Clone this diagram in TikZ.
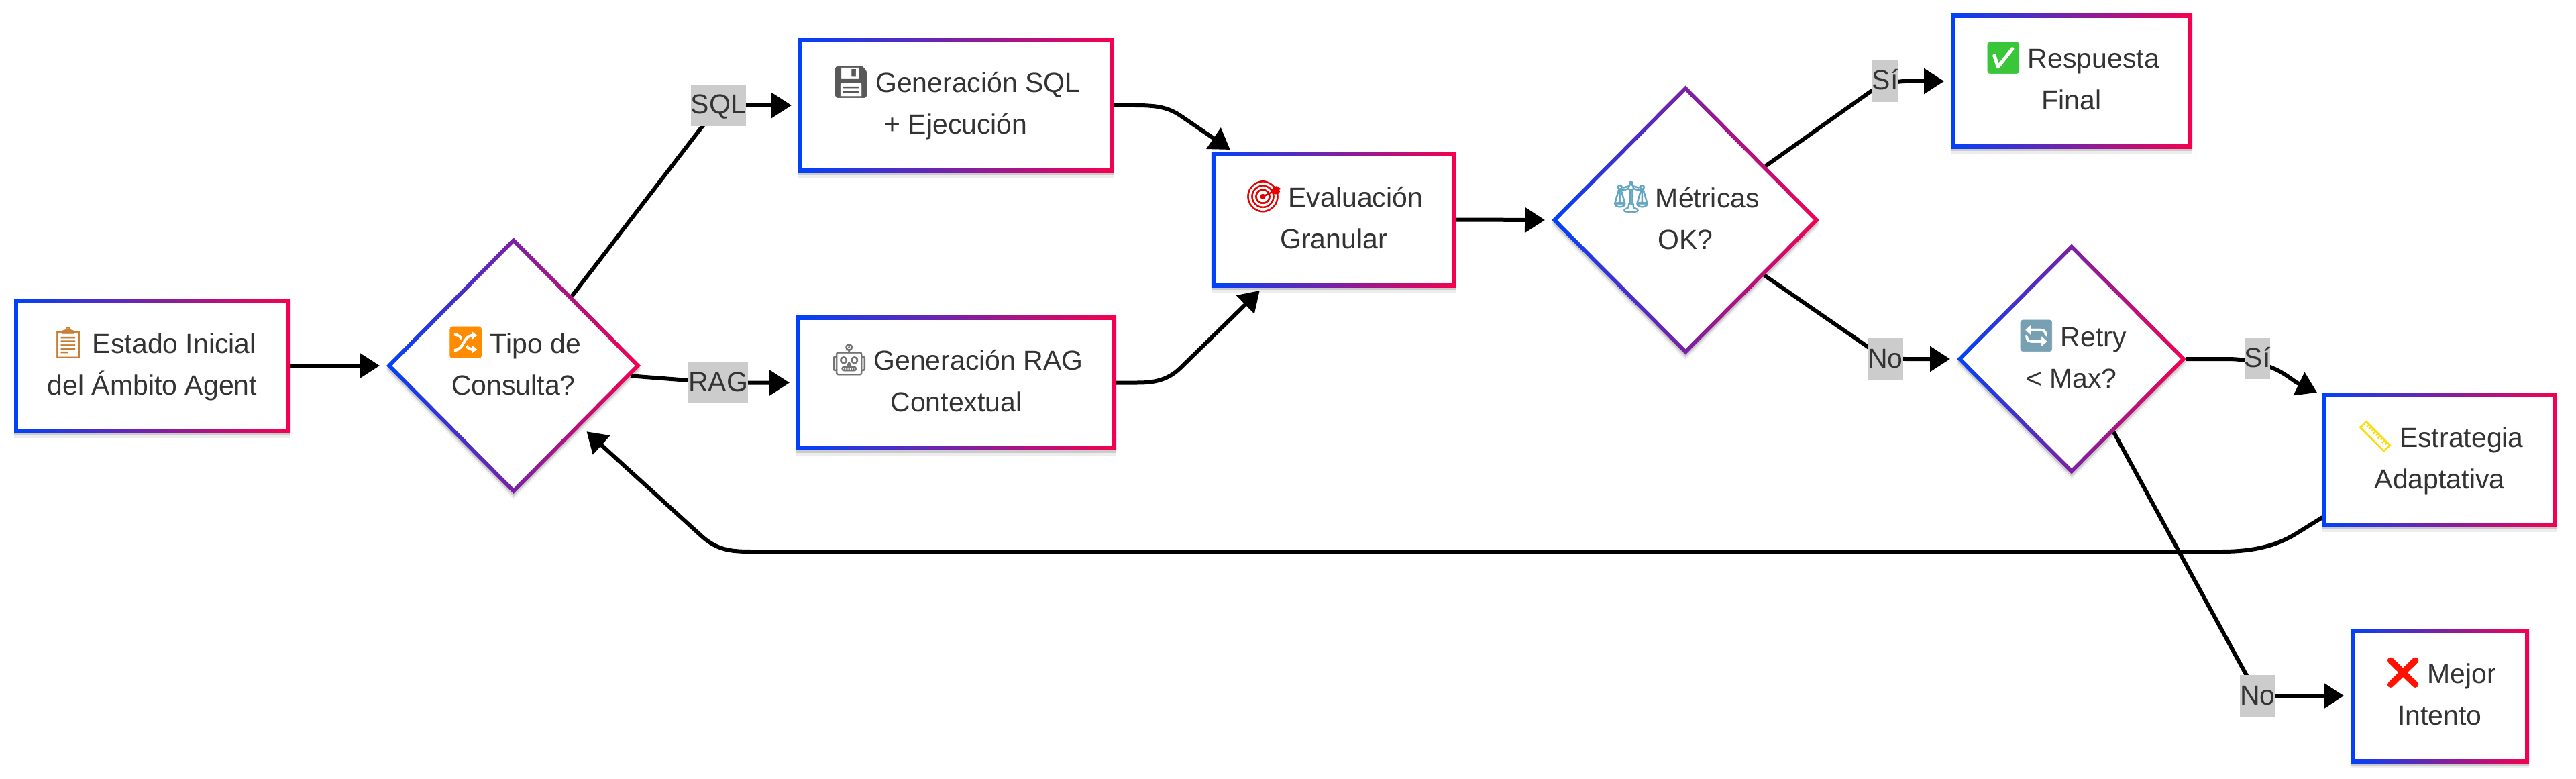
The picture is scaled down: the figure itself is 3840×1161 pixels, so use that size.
\documentclass[tikz,border=0pt]{standalone}
\usepackage{fontspec}
\setmainfont{Liberation Sans}
\newfontfamily\emojifont[FakeBold=1.5]{Noto Emoji}
\usetikzlibrary{shapes.geometric,arrows.meta,calc,backgrounds,shadows}
\definecolor{gradL}{RGB}{0,66,250}
\definecolor{gradR}{RGB}{245,0,80}
\definecolor{inkc}{HTML}{333333}
\definecolor{labbg}{HTML}{CCCCCC}
\newcommand\linestrut{\rule[-19pt]{0pt}{62pt}}
\newcommand\emofont{\emojifont\fontsize{46}{62}\selectfont}
\newcommand\emo[2]{\smash{\textcolor{#1}{\emofont #2}}\kern-4pt\relax}
\tikzset{
  x=1pt,y=-1pt,
  softshadow/.style={drop shadow={shadow xshift=0pt,shadow yshift=-4pt,opacity=.14,fill=black},
                     drop shadow={shadow xshift=0pt,shadow yshift=-8pt,opacity=.07,fill=black}},
  grad/.style={left color=gradL,right color=gradR,draw=none,inner sep=0pt,outer sep=0pt,softshadow},
  gradbox/.style={grad,shape=rectangle},
  gradiam/.style={grad,shape=diamond,aspect=1},
  whitein/.style={fill=white,draw=none,inner sep=0pt,outer sep=0pt,text=inkc,align=center,
                  font={\fontsize{41}{62}\selectfont}},
  innerbox/.style={whitein,shape=rectangle},
  innerdiam/.style={whitein,shape=diamond,aspect=1},
  lab/.style={fill=labbg,text=inkc,inner sep=0pt,outer sep=0pt,minimum height=61.5pt,
              text height=32pt,text depth=6pt,font={\fontsize{41}{62}\selectfont}},
  conn/.style={draw=black,line width=6pt,line join=round,
               -{Triangle[length=30pt,width=37pt]},shorten >=10pt},
}
\newcommand\gbox[6]{%
  \node[gradbox,minimum width=#4 pt,minimum height=#5 pt] (#1) at (#2,#3) {};
  \node[innerbox,minimum width=#4 pt-12pt,minimum height=#5 pt-12pt] (#1-t) at (#2,#3) {#6};
}
\newcommand\gdiam[6]{%
  \node[gradiam,minimum width=#4 pt,minimum height=#5 pt] (#1) at (#2,#3) {};
  \node[innerdiam,minimum width=#4 pt-17pt,minimum height=#5 pt-17pt] (#1-t) at (#2,#3) {#6};
}
\begin{document}
\begin{tikzpicture}
\useasboundingbox (0,0) rectangle (3840,1161);
\begin{scope}[on background layer]
  \fill[white] (0,0) rectangle (3840,1161);
\end{scope}

\gbox{start}{227}{545}{412}{200}{\emo{brown!85!orange}{📋} Estado Inicial\linestrut\\del Ámbito Agent\linestrut}
\gdiam{tipo}{765.5}{545}{379}{382}{\emo{orange!90!yellow}{🔀} Tipo de\linestrut\\Consulta?\linestrut}
\gbox{sql}{1425}{157}{470}{200}{\emo{black!65}{💾} Generación SQL\linestrut\\+ Ejecución\linestrut}
\gbox{rag}{1425.5}{570.5}{477}{200}{\emo{black!55}{🤖} Generación RAG\linestrut\\Contextual\linestrut}
\gbox{evalg}{1988}{327.5}{364.5}{201}{\emo{red!90!black}{🎯} Evaluación\linestrut\\Granular\linestrut}
\gdiam{metr}{2512.5}{328}{399}{401}{\emo{cyan!50!gray}{⚖} Métricas\linestrut\\OK?\linestrut}
\gbox{resp}{3088}{121}{360}{200}{\emo{green!55!gray}{✅} Respuesta\linestrut\\Final\linestrut}
\gdiam{retry}{3088}{535}{342}{343}{\emo{cyan!35!gray}{🔄} Retry\linestrut\\< Max?\linestrut}
\gbox{strat}{3636.5}{685}{349}{200}{\emo{yellow!80!orange}{📏} Estrategia\linestrut\\Adaptativa\linestrut}
\gbox{best}{3637}{1037}{266}{200}{\emo{red!85!orange}{❌} Mejor\linestrut\\Intento\linestrut}

\node[lab,minimum width=82pt] (lsql) at (1071,157) {SQL};
\node[lab,minimum width=89pt] (lrag) at (1070.5,570.5) {RAG};
\node[lab,minimum width=38pt] (lsia) at (2810,121) {Sí};
\node[lab,minimum width=53pt] (lnoa) at (2810.5,535) {No};
\node[lab,minimum width=38pt] (lsib) at (3365,534.5) {Sí};
\node[lab,minimum width=53pt] (lnob) at (3365.5,1037) {No};

\begin{scope}[on background layer]
  \draw[conn] (start.east) -- (tipo.west);
  \draw[conn] (tipo.50.7) -- (lsql.center) -- (sql.west);
  \draw[conn] (tipo.-5.2) -- (lrag.center) -- (rag.west);
  \draw[conn,shorten >=0pt] (sql.east) -- (1692,157) .. controls (1722,157) and (1741,159) .. (1762,174) -- ($(evalg.north west)+(28,-4)$);
  \draw[conn,shorten >=0pt] (rag.east) -- (1695,570.5) .. controls (1722,570.5) and (1741,566) .. (1759,549) -- ($(evalg.south west)+(72,5)$);
  \draw[conn] (evalg.east) -- (metr.west);
  \draw[conn,rounded corners=30pt] (metr.34) -- (lsia.center) -- (resp.west);
  \draw[conn,rounded corners=30pt] (metr.-35) -- (lnoa.center) -- (retry.west);
  \draw[conn,shorten >=0pt] (retry.east) -- (3320,535) .. controls (3345,535) and (3365,540) .. (3384,547) .. controls (3400,553) and (3412,562) .. (3423,570) -- ($(strat.north west)+(-8,0)$);
  \draw[conn] (retry.-60.1) -- (lnob.center) -- (best.west);
  \draw[conn,shorten >=12pt] ($(strat.south west)+(0,-14)$) -- (3420,797) .. controls (3385,818) and (3345,822) .. (3311,822) -- (1120,822) .. controls (1090,822) and (1070,820) .. (1047,800) -- (tipo.-42);
\end{scope}
\end{tikzpicture}
\end{document}
